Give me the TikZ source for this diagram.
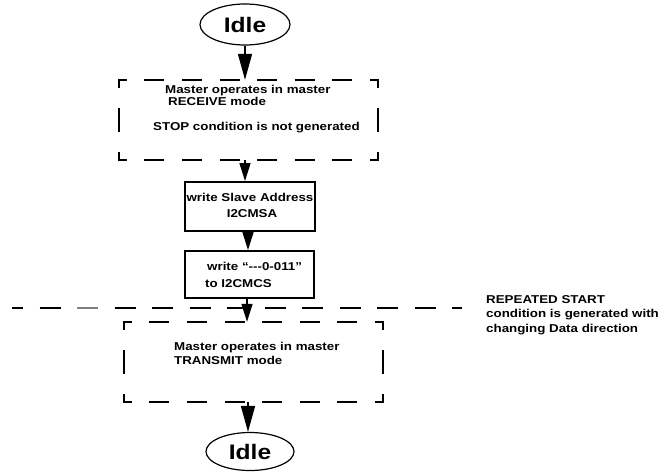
\documentclass[tikz,border=0pt]{standalone}
\usepackage{fontspec}
\newfontfamily\lbl{Liberation Sans}[FakeStretch=1.17]
\usetikzlibrary{arrows.meta,shapes.geometric}
\tikzset{
  txt/.style={font=\lbl\bfseries\fontsize{11.4}{13}\selectfont, inner sep=0pt,
    text height=8.2pt, text depth=0pt, anchor=west},
  txtc/.style={txt, anchor=center},
  idle/.style={ellipse, draw, line width=1.2pt, inner sep=0pt,
    font=\lbl\bfseries\fontsize{21}{24}\selectfont, text height=15pt, text depth=0pt},
  solidbox/.style={rectangle, draw, line width=2pt, inner sep=0pt},
  dashframe/.style={rectangle, inner sep=0pt, minimum width=259pt, minimum height=80pt},
  hside/.style={line width=2pt, line cap=rect, dash pattern=on 18pt off 19.571pt, dash phase=11pt},
  vside/.style={line width=2pt, line cap=rect, dash pattern=on 22pt off 22pt, dash phase=15pt},
  longdash/.style={line width=2pt, dash pattern=on 21pt off 16.5pt, dash phase=10pt},
  bigarr/.style={line width=1.5pt, -{Triangle[length=26pt,width=14pt]}},
  smallarr/.style={line width=1.5pt, -{Triangle[length=18pt,width=11pt]}},
}
\newcommand{\dashedframe}[1]{%
  \draw[hside] (#1.north west) -- (#1.north east);
  \draw[hside] (#1.south west) -- (#1.south east);
  \draw[vside] (#1.north west) -- (#1.south west);
  \draw[vside] (#1.north east) -- (#1.south east);}
\begin{document}
\begin{tikzpicture}[x=1pt,y=-1pt]
\useasboundingbox (0,0) rectangle (660,474);
\fill[white] (0,0) rectangle (660,474);

% Idle (top)
\node[idle, minimum width=90pt, minimum height=41pt] (idle1) at (245,24.5) {Idle};

% Box 1: dashed
\node[dashframe] (b1) at (248.5,120) {};
\dashedframe{b1}
\node[txt] (t11) at (165,89.8) {Master operates in master};
\node[txt] (t12) at (168,101.8) {RECEIVE mode};
\node[txt] (t13) at (153,126.7) {STOP condition is not generated};

% Box 2
\node[solidbox, minimum width=130pt, minimum height=49pt] (b2) at (250,206.5) {};
\node[txtc] (t21) at (250,197) {write Slave Address};
\node[txtc] (t22) at (252,213.3) {I2CMSA};

% Box 3
\node[solidbox, minimum width=129pt, minimum height=47pt] (b3) at (249.5,274.5) {};
\node[txt] (t31) at (207,266.7) {write “-{}-{}-0-011”};
\node[txt] (t32) at (205,283) {to I2CMCS};

% long dashed separator
\coordinate (dl) at (12,308);
\coordinate (dr) at (462,308);
\draw[longdash] (dl) -- (dr);
\draw[line width=2pt, black!50] ([xshift=65pt]dl) -- ([xshift=86pt]dl);

\node[txt] (r1) at (486,299) {REPEATED START};
\node[txt] (r2) at (486,313.7) {condition is generated with};
\node[txt] (r3) at (486,328) {changing Data direction};

% Box 4: dashed
\node[dashframe] (b4) at (253.5,362) {};
\dashedframe{b4}
\node[txt] (t41) at (174,346) {Master operates in master};
\node[txt] (t42) at (174,360.3) {TRANSMIT mode};

% Idle (bottom)
\node[idle, minimum width=88pt, minimum height=38pt] (idle2) at (250,451.5) {Idle};

% arrows
\draw[bigarr] (idle1.south) -- (idle1.south |- b1.north);
\draw[smallarr] (idle1.south |- b1.south) -- (idle1.south |- b2.north);
\draw[smallarr] ([xshift=-2pt]b2.south) -- ([xshift=-2pt]b2.south |- b3.north);
\draw[smallarr] ([xshift=-2.5pt]b3.south) -- ([xshift=-2.5pt]b3.south |- b4.north);
\draw[bigarr] ([xshift=-2pt]idle2.north |- b4.south) -- ([xshift=-2pt]idle2.north);
\end{tikzpicture}
\end{document}
